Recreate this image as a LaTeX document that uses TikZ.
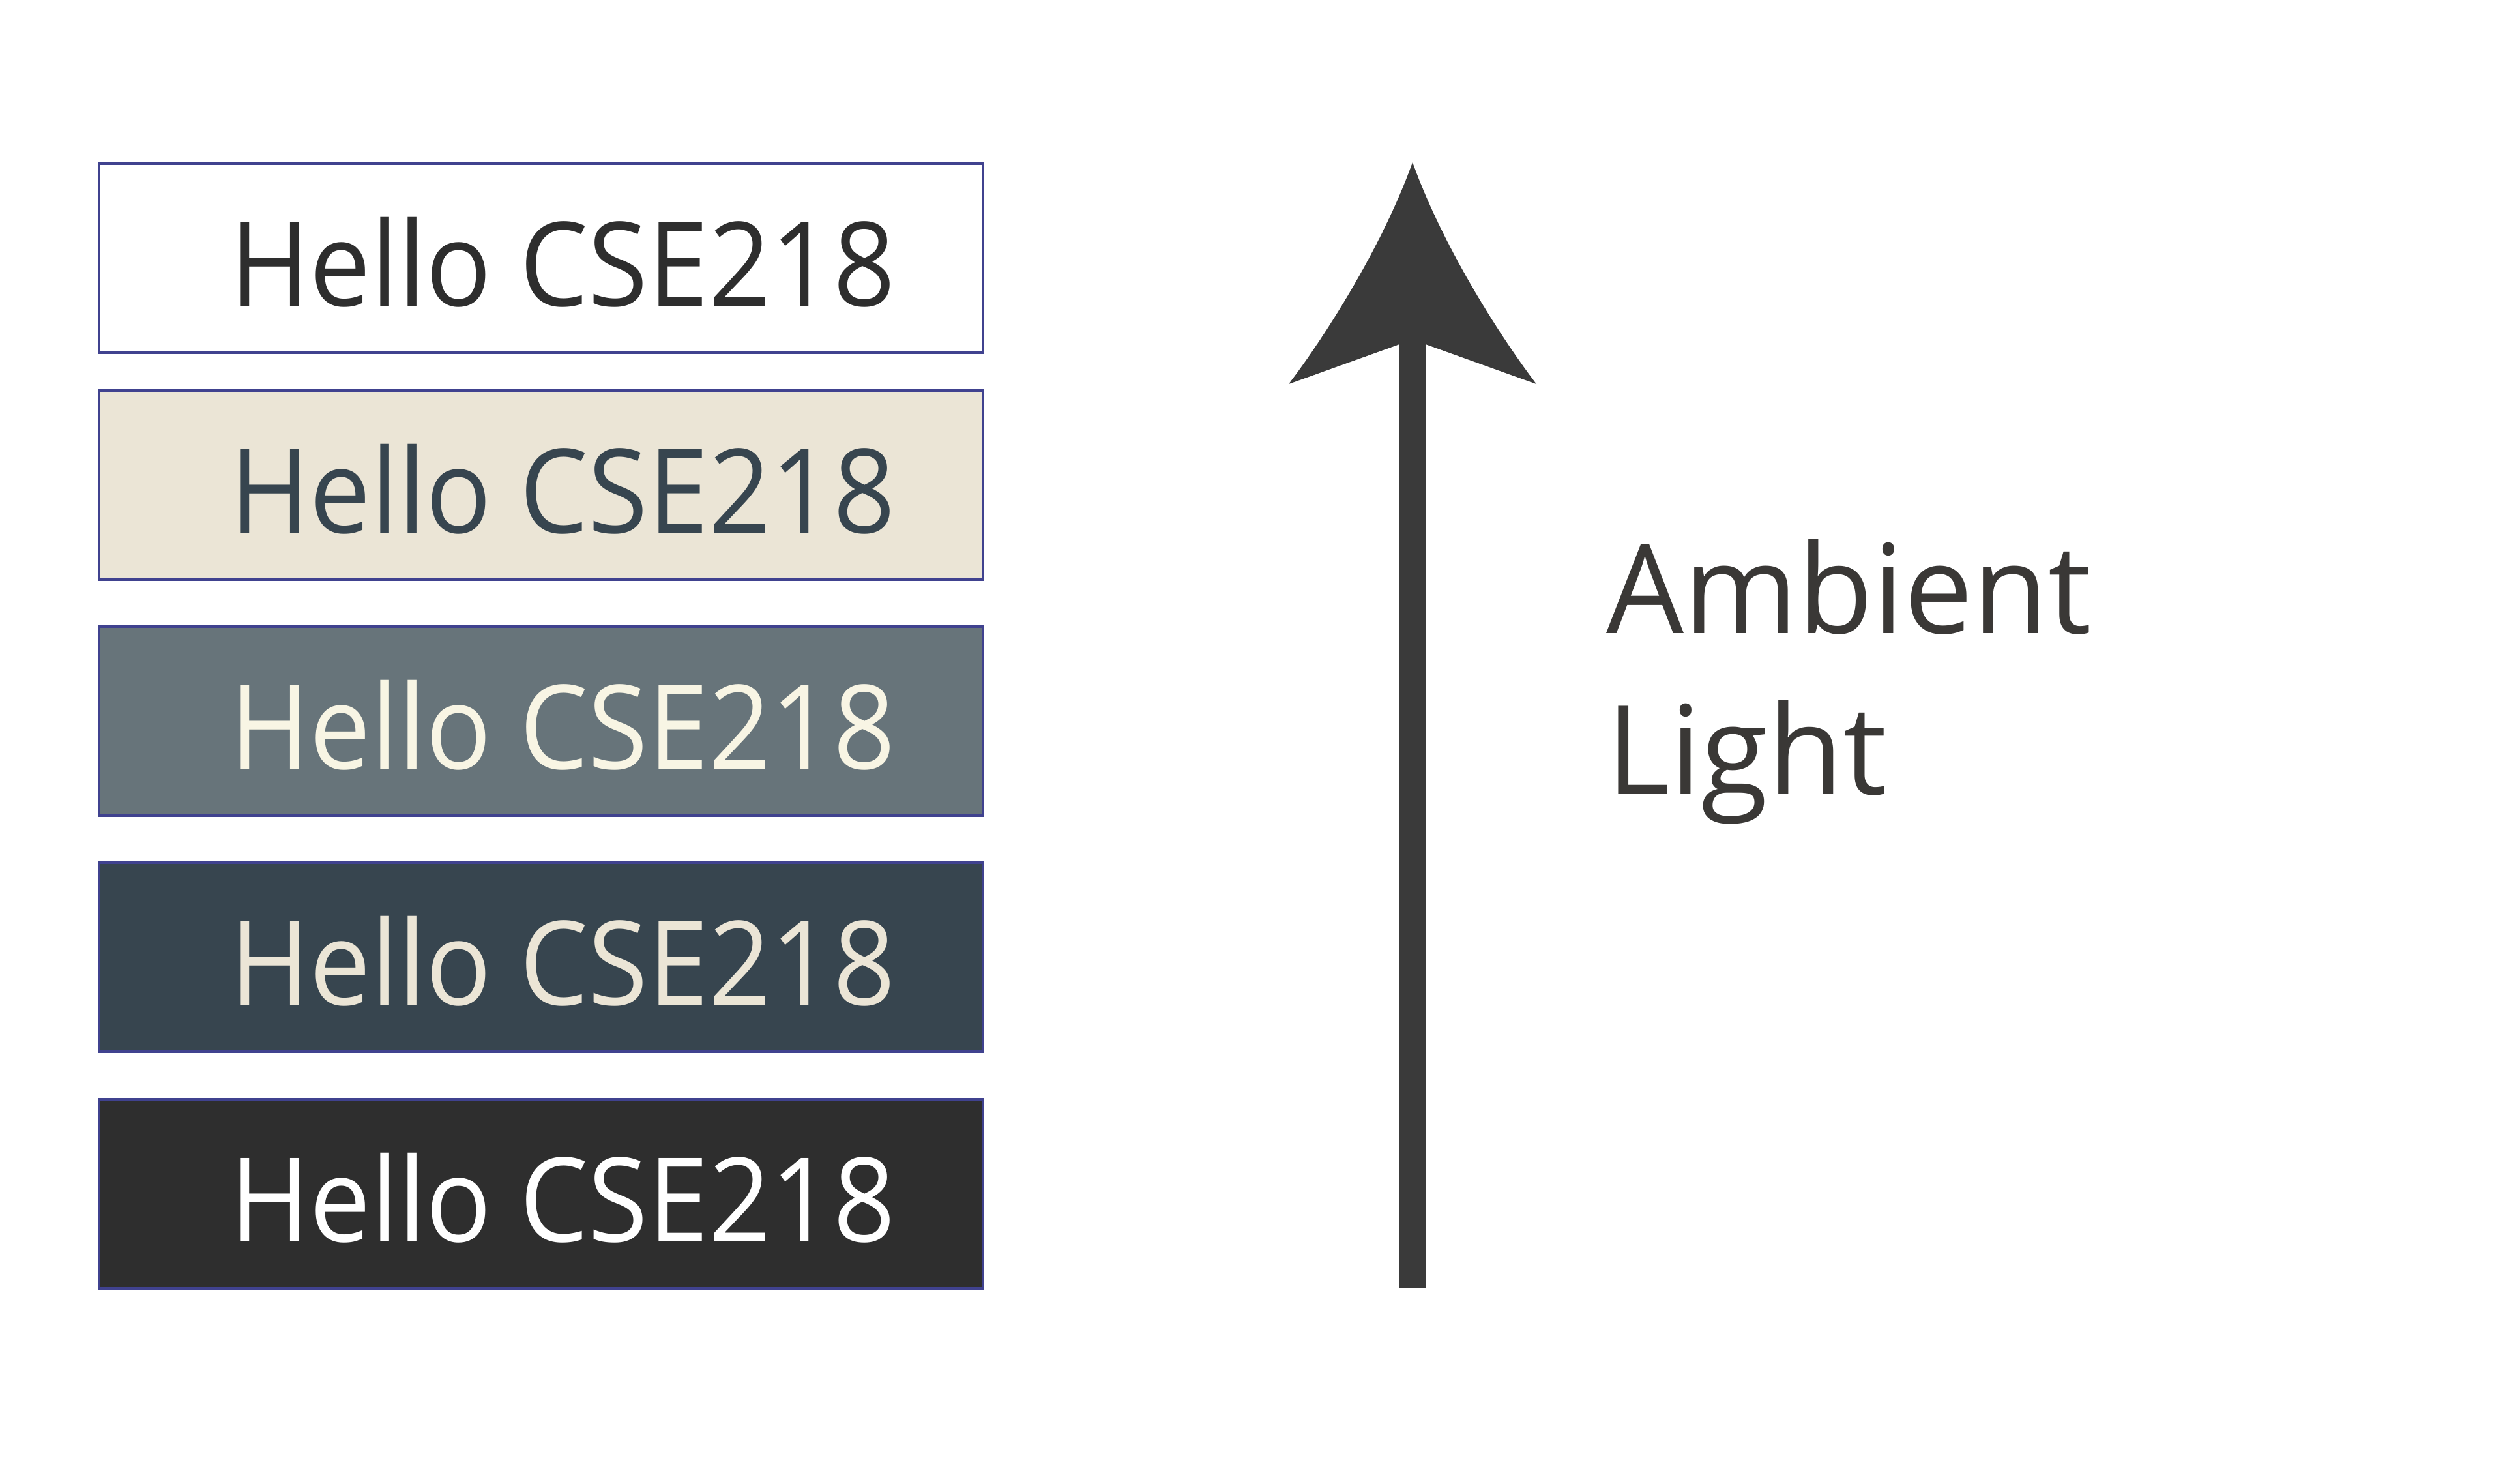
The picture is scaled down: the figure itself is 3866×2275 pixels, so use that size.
\documentclass[tikz,border=0pt]{standalone}
\usepackage{fontspec}
\setmainfont[FakeStretch=0.93]{Open Sans}
\newfontfamily\labelfont[FakeStretch=0.99]{Open Sans}
\definecolor{frameblue}{HTML}{40428F}
\definecolor{ink}{HTML}{2E2E2E}
\definecolor{sand}{HTML}{EBE5D6}
\definecolor{slategrey}{HTML}{67747A}
\definecolor{slate}{HTML}{37454F}
\definecolor{cream}{HTML}{F8F5E4}
\definecolor{arrowgrey}{HTML}{3A3A3A}
\definecolor{labelgrey}{HTML}{3A3836}
\tikzset{
  swatch/.style={draw=frameblue, line width=0.035cm, anchor=north west,
    inner sep=0pt, minimum width=13.56cm, minimum height=2.9cm},
  hellotext/.style={anchor=base west, inner sep=0pt,
    font=\fontsize{51}{60}\selectfont},
}
\begin{document}
\begin{tikzpicture}[x=0.01cm, y=-0.01cm]
    \useasboundingbox (0,0) rectangle (3866,2275);

    % Left: the same text on five backgrounds
    \foreach \top/\bg/\fg [count=\i] in {249/white/ink, 597/sand/slate,
        959/slategrey/cream, 1321/slate/sand, 1684/ink/white} {
        \node[swatch, fill=\bg] (box\i) at (150,\top) {};
        \node[hellotext, text=\fg] (hello\i) at (352,\top+220) {Hello CSE218};
    }

    % Right: arrow for rising light
    \coordinate (lightlow) at (2167,1975);
    \coordinate (lighttip) at (2167,249);
    \coordinate (notch) at (2167,528);
    \draw[line width=0.4cm, arrowgrey] (lightlow) -- (notch);
    \fill[arrowgrey] (lighttip) .. controls (2120,380) and (2030,520) .. (1977,589)
        -- (2147,528) -- (2187,528) -- (2357,589)
        .. controls (2304,520) and (2214,380) .. (lighttip) -- cycle;

    \node[anchor=base west, align=left, inner sep=0pt, text=labelgrey,
        font=\labelfont\fontsize{54}{70}\selectfont] (ambient) at (2464,1218) {Ambient\\Light};
\end{tikzpicture}
\end{document}
